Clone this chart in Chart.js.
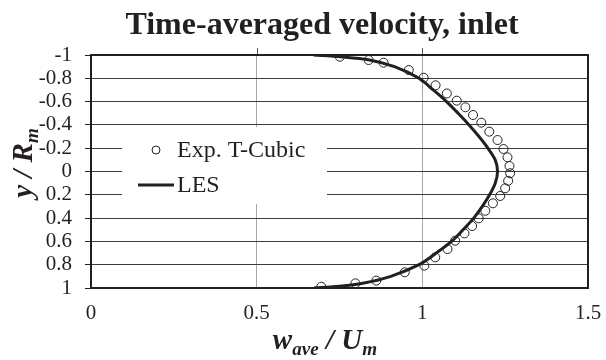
<!DOCTYPE html>
<html>
<head>
<meta charset="utf-8">
<script src="https://cdn.jsdelivr.net/npm/chart.js@4.4.1/dist/chart.umd.min.js"></script>
<style>
  html, body { margin: 0; padding: 0; background: #fff; }
  #wrap { width: 606px; height: 360px; }
</style>
</head>
<body>
<div id="wrap"><canvas id="chart" width="606" height="360"></canvas></div>
<script>
const expVel = [0.751, 0.838, 0.883, 0.959, 1.004, 1.040, 1.074, 1.104, 1.130, 1.153, 1.178, 1.202, 1.227, 1.245, 1.257, 1.263,
                1.265, 1.259, 1.250, 1.235, 1.213, 1.190, 1.170, 1.150, 1.127, 1.099, 1.076, 1.039, 1.006, 0.947, 0.861, 0.798, 0.695];
const expY   = [-0.985, -0.957, -0.934, -0.871, -0.805, -0.740, -0.670, -0.608, -0.551, -0.485, -0.419, -0.342, -0.270, -0.193, -0.122, -0.047,
                0.015, 0.080, 0.144, 0.210, 0.273, 0.337, 0.402, 0.468, 0.531, 0.594, 0.666, 0.737, 0.808, 0.865, 0.937, 0.960, 0.989];

// LES profile
const lesVel = [0.672, 0.753, 0.837, 0.916, 0.990, 1.033, 1.073, 1.108, 1.141, 1.171, 1.198, 1.220, 1.227,
                1.220, 1.203, 1.181, 1.155, 1.123, 1.088, 1.042, 0.990, 0.905, 0.820, 0.750, 0.673];
const lesY   = [-1, -0.985, -0.96, -0.9, -0.8, -0.7, -0.6, -0.5, -0.4, -0.3, -0.2, -0.1, 0,
                0.1, 0.2, 0.3, 0.4, 0.5, 0.6, 0.7, 0.8, 0.9, 0.96, 0.985, 1];

const xTickLabels = ["0", "0.5", "1", "1.5"];
const yTickLabels = ["-1", "-0.8", "-0.6", "-0.4", "-0.2", "0", "0.2", "0.4", "0.6", "0.8", "1"];

const INK = "#231f20";
const SERIF = "'Liberation Serif', 'Times New Roman', serif";

// draws text made of pieces, some of them subscripts
function richText(ctx, parts, size) {
  let w = 0;
  const items = parts.map(p => {
    const s = p.sub ? size * 0.66 : size;
    ctx.font = "italic bold " + s + "px " + SERIF;
    const m = ctx.measureText(p.t).width;
    const it = { t: p.t, s: s, w: m, dy: p.sub ? size * 0.22 : 0 };
    w += m;
    return it;
  });
  return { items, w };
}
function drawRich(ctx, parts, size, cx, baseline) {
  const r = richText(ctx, parts, size);
  let x = cx - r.w / 2;
  ctx.textAlign = "left";
  ctx.textBaseline = "alphabetic";
  r.items.forEach(it => {
    ctx.font = "italic bold " + it.s + "px " + SERIF;
    ctx.fillText(it.t, x, baseline + it.dy);
    x += it.w;
  });
}

const decor = {
  id: "decor",
  afterDraw(chart) {
    const ctx = chart.ctx;
    const a = chart.chartArea;
    const xs = chart.scales.x;
    ctx.save();
    ctx.fillStyle = INK;

    // title
    ctx.font = "bold 32px " + SERIF;
    ctx.textAlign = "center";
    ctx.textBaseline = "alphabetic";
    ctx.fillText("Time-averaged velocity, inlet", 322, 34);

    // x title
    drawRich(ctx, [{ t: "w" }, { t: "ave", sub: true }, { t: " / U" }, { t: "m", sub: true }], 29, 325, 349);

    // y title, rotated
    ctx.save();
    ctx.translate(32, 163);
    ctx.rotate(-Math.PI / 2);
    drawRich(ctx, [{ t: "y / R" }, { t: "m", sub: true }], 29, 0, 0);
    ctx.restore();

    // small tick marks above the top border
    ctx.strokeStyle = "#555";
    ctx.lineWidth = 1;
    [0.5, 1].forEach(v => {
      const px = Math.round(xs.getPixelForValue(v)) + 0.5;
      ctx.beginPath();
      ctx.moveTo(px, a.top - 7);
      ctx.lineTo(px, a.top);
      ctx.stroke();
    });

    // plot frame
    ctx.strokeStyle = INK;
    ctx.lineWidth = 2;
    ctx.strokeRect(a.left, a.top, a.right - a.left, a.bottom - a.top);
    ctx.restore();
  },
  afterDatasetsDraw(chart) {
    // legend box inside the plot
    const ctx = chart.ctx;
    const ds = chart.data.datasets;
    ctx.save();
    ctx.fillStyle = "#fff";
    ctx.fillRect(122, 127, 205, 77);
    ctx.font = "24px " + SERIF;
    ctx.textAlign = "left";
    ctx.textBaseline = "middle";
    const rows = [150, 185];
    ds.forEach((d, i) => {
      const y = rows[i];
      ctx.strokeStyle = d.borderColor;
      if (d.showLine) {
        ctx.lineWidth = d.borderWidth;
        ctx.beginPath();
        ctx.moveTo(138, y);
        ctx.lineTo(174, y);
        ctx.stroke();
      } else {
        ctx.lineWidth = 1;
        ctx.beginPath();
        ctx.arc(156, y, 4, 0, Math.PI * 2);
        ctx.stroke();
      }
      ctx.fillStyle = INK;
      ctx.fillText(d.label, 177, y + 1);
    });
    ctx.restore();
  }
};

new Chart(document.getElementById("chart"), {
  type: "scatter",
  data: {
    datasets: [
      {
        label: "Exp. T-Cubic",
        data: expVel.map((v, i) => ({ x: v, y: expY[i] })),
        pointStyle: "circle",
        pointRadius: 4.5,
        pointBorderWidth: 1,
        borderColor: INK,
        backgroundColor: "rgba(0,0,0,0)",
        pointBackgroundColor: "rgba(0,0,0,0)",
        order: 1
      },
      {
        label: "LES",
        data: lesVel.map((v, i) => ({ x: v, y: lesY[i] })),
        showLine: true,
        pointRadius: 0,
        borderColor: INK,
        borderWidth: 3,
        tension: 0.3,
        order: 0
      }
    ]
  },
  options: {
    responsive: false,
    animation: false,
    devicePixelRatio: 1,
    layout: { padding: { top: 55, right: 18, left: 0, bottom: 0 } },
    plugins: {
      legend: { display: false },
      title: { display: false },
      tooltip: { enabled: false }
    },
    scales: {
      x: {
        type: "linear",
        min: 0,
        max: 1.5,
        afterBuildTicks: s => { s.ticks = xTickLabels.map(t => ({ value: parseFloat(t) })); },
        afterFit: s => { s.height = 72; },
        ticks: {
          callback: (v, i) => xTickLabels[i],
          color: INK,
          font: { family: SERIF, size: 21 },
          padding: 0,
          maxRotation: 0,
          autoSkip: false
        },
        grid: {
          drawTicks: true,
          tickLength: 13,
          tickColor: "rgba(0,0,0,0)",
          color: "#a6a6a6",
          lineWidth: 1
        },
        border: { display: false }
      },
      y: {
        type: "linear",
        reverse: true,
        min: -1,
        max: 1,
        afterBuildTicks: s => { s.ticks = yTickLabels.map(t => ({ value: parseFloat(t) })); },
        afterFit: s => { s.width = 91; },
        ticks: {
          callback: (v, i) => yTickLabels[i],
          color: INK,
          font: { family: SERIF, size: 21 },
          padding: 13,
          autoSkip: false
        },
        grid: {
          color: "#3c3c3c",
          lineWidth: 1,
          tickLength: 6,
          tickColor: INK
        },
        border: { display: false }
      }
    }
  },
  plugins: [decor]
});
</script>
</body>
</html>
